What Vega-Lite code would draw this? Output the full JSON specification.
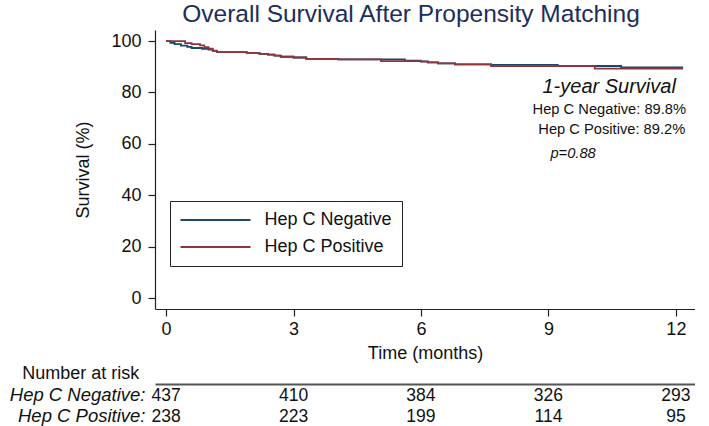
{
  "$schema": "https://vega.github.io/schema/vega-lite/v6.json",
  "background": "white",
  "padding": {"left": 9, "top": 1, "right": 0, "bottom": 0},
  "spacing": 3,
  "config": {
    "font": "Liberation Sans",
    "view": {"stroke": null},
    "axis": {"domainColor": "#222", "tickColor": "#222", "labelColor": "#111", "titleColor": "#111", "labelFontSize": 18, "titleFontSize": 18, "titleFontWeight": "normal", "grid": false, "tickSize": 7, "domainWidth": 1.2, "tickWidth": 1.2}
  },
  "datasets": {
    "km": [
      {"group": "Hep C Negative", "time": 0, "survival": 100},
      {"group": "Hep C Negative", "time": 0.1, "survival": 99.3},
      {"group": "Hep C Negative", "time": 0.2, "survival": 98.8},
      {"group": "Hep C Negative", "time": 0.35, "survival": 98.2},
      {"group": "Hep C Negative", "time": 0.5, "survival": 97.7},
      {"group": "Hep C Negative", "time": 0.6, "survival": 97.3},
      {"group": "Hep C Negative", "time": 0.85, "survival": 97.0},
      {"group": "Hep C Negative", "time": 1.0, "survival": 96.7},
      {"group": "Hep C Negative", "time": 1.1, "survival": 96.2},
      {"group": "Hep C Negative", "time": 1.2, "survival": 95.7},
      {"group": "Hep C Negative", "time": 1.9, "survival": 95.4},
      {"group": "Hep C Negative", "time": 2.2, "survival": 95.0},
      {"group": "Hep C Negative", "time": 2.4, "survival": 94.7},
      {"group": "Hep C Negative", "time": 2.55, "survival": 94.3},
      {"group": "Hep C Negative", "time": 2.7, "survival": 93.9},
      {"group": "Hep C Negative", "time": 3.0, "survival": 93.6},
      {"group": "Hep C Negative", "time": 3.3, "survival": 93.1},
      {"group": "Hep C Negative", "time": 4.05, "survival": 92.9},
      {"group": "Hep C Negative", "time": 5.62, "survival": 92.4},
      {"group": "Hep C Negative", "time": 6.0, "survival": 92.1},
      {"group": "Hep C Negative", "time": 6.16, "survival": 91.7},
      {"group": "Hep C Negative", "time": 6.4, "survival": 91.3},
      {"group": "Hep C Negative", "time": 6.8, "survival": 90.9},
      {"group": "Hep C Negative", "time": 7.65, "survival": 90.7},
      {"group": "Hep C Negative", "time": 9.22, "survival": 90.3},
      {"group": "Hep C Negative", "time": 10.71, "survival": 89.8},
      {"group": "Hep C Negative", "time": 12.17, "survival": 89.8},
      {"group": "Hep C Positive", "time": 0, "survival": 100},
      {"group": "Hep C Positive", "time": 0.45, "survival": 99.2},
      {"group": "Hep C Positive", "time": 0.6, "survival": 98.8},
      {"group": "Hep C Positive", "time": 0.8, "survival": 98.3},
      {"group": "Hep C Positive", "time": 0.9, "survival": 97.6},
      {"group": "Hep C Positive", "time": 1.0, "survival": 97.0},
      {"group": "Hep C Positive", "time": 1.1, "survival": 96.3},
      {"group": "Hep C Positive", "time": 1.2, "survival": 95.7},
      {"group": "Hep C Positive", "time": 1.9, "survival": 95.4},
      {"group": "Hep C Positive", "time": 2.2, "survival": 95.0},
      {"group": "Hep C Positive", "time": 2.4, "survival": 94.7},
      {"group": "Hep C Positive", "time": 2.55, "survival": 94.3},
      {"group": "Hep C Positive", "time": 2.7, "survival": 93.9},
      {"group": "Hep C Positive", "time": 3.0, "survival": 93.6},
      {"group": "Hep C Positive", "time": 3.3, "survival": 93.1},
      {"group": "Hep C Positive", "time": 4.05, "survival": 92.9},
      {"group": "Hep C Positive", "time": 5.06, "survival": 92.2},
      {"group": "Hep C Positive", "time": 6.0, "survival": 92.0},
      {"group": "Hep C Positive", "time": 6.16, "survival": 91.7},
      {"group": "Hep C Positive", "time": 6.4, "survival": 91.3},
      {"group": "Hep C Positive", "time": 6.8, "survival": 90.9},
      {"group": "Hep C Positive", "time": 7.65, "survival": 90.3},
      {"group": "Hep C Positive", "time": 10.09, "survival": 89.3},
      {"group": "Hep C Positive", "time": 12.17, "survival": 89.3}
    ],
    "risk": [
      {"group": "Hep C Negative", "time": 0, "n": 437},
      {"group": "Hep C Negative", "time": 3, "n": 410},
      {"group": "Hep C Negative", "time": 6, "n": 384},
      {"group": "Hep C Negative", "time": 9, "n": 326},
      {"group": "Hep C Negative", "time": 12, "n": 293},
      {"group": "Hep C Positive", "time": 0, "n": 238},
      {"group": "Hep C Positive", "time": 3, "n": 223},
      {"group": "Hep C Positive", "time": 6, "n": 199},
      {"group": "Hep C Positive", "time": 9, "n": 114},
      {"group": "Hep C Positive", "time": 12, "n": 95}
    ]
  },
  "vconcat": [
    {
      "width": 540,
      "height": 279,
      "title": {"text": "Overall Survival After Propensity Matching", "fontSize": 24.5, "fontWeight": "normal", "color": "#1c2e5c", "anchor": "middle", "dx": -14, "offset": 3},
      "layer": [
        {
          "data": {"name": "km"},
          "mark": {"type": "line", "interpolate": "step-after", "strokeWidth": 1.8},
          "encoding": {
            "x": {"field": "time", "type": "quantitative", "scale": {"domain": [-0.26, 12.45], "nice": false, "zero": false}, "axis": {"values": [0, 3, 6, 9, 12], "title": "Time (months)", "labelPadding": 4, "titlePadding": 6}},
            "y": {"field": "survival", "type": "quantitative", "scale": {"domain": [-4.2, 104.3], "nice": false, "zero": false}, "axis": {"values": [0, 20, 40, 60, 80, 100], "title": "Survival (%)", "labelPadding": 7, "titlePadding": 18}},
            "color": {"field": "group", "type": "nominal", "scale": {"domain": ["Hep C Negative", "Hep C Positive"], "range": ["#1a476f", "#90353b"]},
              "legend": {"title": null, "orient": "none", "legendX": 15, "legendY": 171, "strokeColor": "#222", "fillColor": "white", "padding": 10, "symbolType": "M-7,0H7", "symbolSize": 100, "symbolStrokeWidth": 2, "symbolOffset": 26.5, "labelOffset": 40, "labelFontSize": 18, "rowPadding": 9, "labelColor": "#111"}}
          }
        },
        {
          "data": {"values": [{"label": "1-year Survival"}]},
          "mark": {"type": "text", "fontStyle": "italic", "fontSize": 20, "align": "right", "baseline": "alphabetic", "color": "#111"},
          "encoding": {"x": {"datum": 12}, "y": {"datum": 79.8}, "text": {"field": "label"}}
        },
        {
          "data": {"values": [{"label": "Hep C Negative: 89.8%"}]},
          "mark": {"type": "text", "fontSize": 14.7, "align": "right", "baseline": "alphabetic", "color": "#111"},
          "encoding": {"x": {"datum": 12.24}, "y": {"datum": 71.6}, "text": {"field": "label"}}
        },
        {
          "data": {"values": [{"label": "Hep C Positive: 89.2%"}]},
          "mark": {"type": "text", "fontSize": 14.7, "align": "right", "baseline": "alphabetic", "color": "#111"},
          "encoding": {"x": {"datum": 12.22}, "y": {"datum": 63.8}, "text": {"field": "label"}}
        },
        {
          "data": {"values": [{"label": "p=0.88"}]},
          "mark": {"type": "text", "fontStyle": "italic", "fontSize": 14.7, "align": "center", "baseline": "alphabetic", "color": "#111"},
          "encoding": {"x": {"datum": 9.58}, "y": {"datum": 54.5}, "text": {"field": "label"}}
        }
      ]
    },
    {
      "width": 540,
      "height": 42,
      "title": {"text": "Number at risk", "anchor": "start", "frame": "bounds", "fontSize": 18, "fontWeight": "normal", "color": "#111", "dx": 13, "offset": 1},
      "data": {"name": "risk"},
      "mark": {"type": "text", "fontSize": 17.5, "color": "#111", "dy": 1},
      "encoding": {
        "x": {"field": "time", "type": "quantitative", "scale": {"domain": [-0.26, 12.45], "nice": false, "zero": false}, "axis": {"orient": "top", "labels": false, "ticks": false, "title": null, "domainColor": "#555", "domainWidth": 2}},
        "y": {"field": "group", "type": "nominal", "sort": ["Hep C Negative", "Hep C Positive"], "axis": {"title": null, "ticks": false, "domain": false, "labelFontSize": 18.5, "labelFontStyle": "italic", "labelPadding": 10, "labelExpr": "datum.label + ':'"}},
        "text": {"field": "n", "type": "quantitative"}
      }
    }
  ]
}
